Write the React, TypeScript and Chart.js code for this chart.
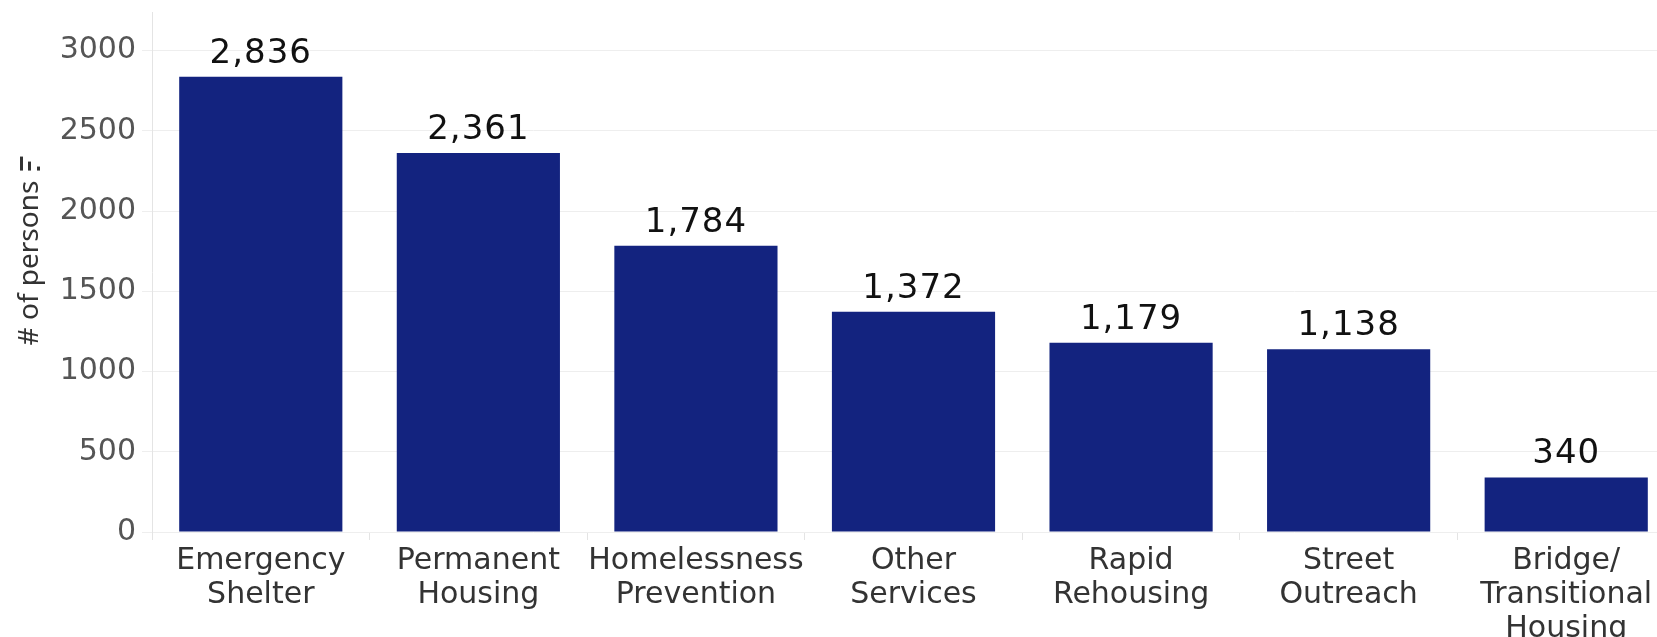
import React, { useEffect, useRef } from "react";
import { Chart, registerables } from "chart.js";

Chart.register(...registerables);

const categories: string[][] = [
  ["Emergency", "Shelter"],
  ["Permanent", "Housing"],
  ["Homelessness", "Prevention"],
  ["Other", "Services"],
  ["Rapid", "Rehousing"],
  ["Street", "Outreach"],
  ["Bridge/", "Transitional", "Housing"],
];
const values: number[] = [2836, 2361, 1784, 1372, 1179, 1138, 340];
const yTicks: number[] = [0, 500, 1000, 1500, 2000, 2500, 3000];
const yMin = 0;
const yMax = 3240;
const yTitle = "# of persons";

const BAR_COLOR = "#13237f";

const valueLabels = {
  id: "valueLabels",
  afterDatasetsDraw(chart: any) {
    const ctx = chart.ctx;
    const meta = chart.getDatasetMeta(0);
    ctx.save();
    ctx.font = "34px 'DejaVu Sans'";
    (ctx as any).letterSpacing = "1px";
    ctx.fillStyle = "#111111";
    ctx.textAlign = "center";
    ctx.textBaseline = "alphabetic";
    meta.data.forEach((bar: any, i: number) => {
      const v = chart.data.datasets[0].data[i] as number;
      ctx.fillText(v.toLocaleString("en-US"), bar.x, bar.y - 14);
    });
    ctx.restore();
  },
};

const axisTitle = {
  id: "axisTitle",
  afterDraw(chart: any) {
    const ctx = chart.ctx;
    const area = chart.chartArea;
    const cy = (area.top + area.bottom) / 2 - 9;
    const cx = 30;
    ctx.save();
    ctx.font = "28px 'Noto Sans'";
    ctx.fillStyle = "#333333";
    const w = ctx.measureText(yTitle).width;
    ctx.translate(cx, cy);
    ctx.rotate(-Math.PI / 2);
    ctx.textAlign = "center";
    ctx.textBaseline = "middle";
    ctx.fillText(yTitle, 0, 0);
    ctx.restore();
    // small sort icon above title
    const bottom = cy - w / 2 - 10;
    ctx.save();
    ctx.fillStyle = "#333333";
    ctx.fillRect(20, bottom - 14, 3, 14);
    ctx.fillRect(28, bottom - 9, 3, 9);
    ctx.fillRect(37, bottom - 4, 3, 4);
    ctx.restore();
  },
};

export default function App() {
  const canvasRef = useRef<HTMLCanvasElement | null>(null);

  useEffect(() => {
    const canvas = canvasRef.current;
    if (!canvas) return;
    const chart = new Chart(canvas, {
      type: "bar",
      data: {
        labels: categories,
        datasets: [
          {
            data: values,
            backgroundColor: BAR_COLOR,
            borderWidth: 0,
            barPercentage: 0.75,
            categoryPercentage: 1,
          },
        ],
      },
      options: {
        responsive: false,
        animation: false,
        devicePixelRatio: 1,
        layout: { padding: { top: 7, right: 15, left: 0, bottom: 0 } },
        plugins: {
          legend: { display: false },
          tooltip: { enabled: false },
        },
        scales: {
          x: {
            grid: {
              drawOnChartArea: false,
              drawTicks: true,
              tickLength: 8,
              color: "#e4e4e4",
              offset: true,
            },
            border: { display: false },
            ticks: {
              font: { family: "'DejaVu Sans'", size: 30, lineHeight: 1.13 },
              color: "#333333",
              padding: 4,
              maxRotation: 0,
              autoSkip: false,
            },
            afterFit: (s: any) => {
              s.height = 105;
            },
          },
          y: {
            min: yMin,
            max: yMax,
            afterBuildTicks: (s: any) => {
              s.ticks = yTicks.map((v) => ({ value: v }));
            },
            ticks: {
              font: { family: "'DejaVu Sans'", size: 30, lineHeight: 0.4 },
              color: "#555555",
              padding: 6,
              callback: (v: any) => String(v),
            },
            grid: { color: "#eeeeee", tickLength: 10 },
            border: { display: true, color: "#e4e4e4" },
            afterFit: (s: any) => {
              s.width = 152;
            },
          },
        },
      },
      plugins: [valueLabels, axisTitle],
    });
    return () => chart.destroy();
  }, []);

  return (
    <div
      style={{
        position: "fixed",
        left: 0,
        top: 0,
        width: 1657,
        height: 637,
        overflow: "hidden",
        background: "#ffffff",
      }}
    >
      <canvas ref={canvasRef} width={1690} height={637} style={{ display: "block" }} />
    </div>
  );
}
